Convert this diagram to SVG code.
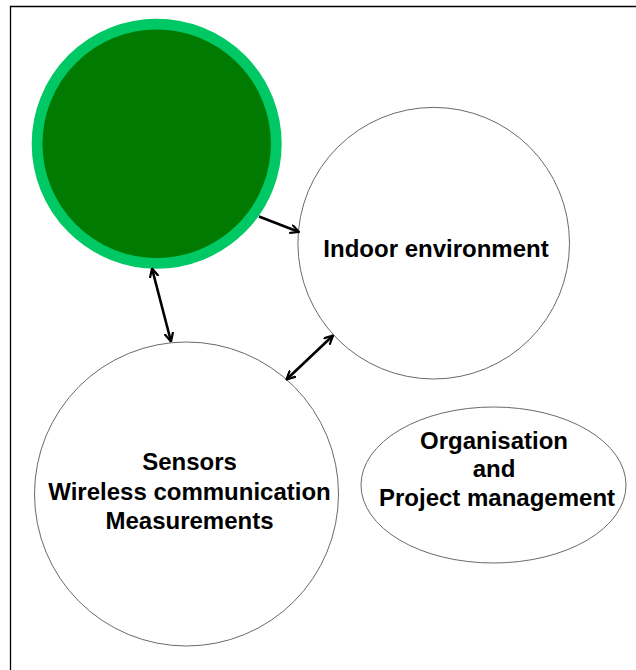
<svg xmlns="http://www.w3.org/2000/svg" width="636" height="670" viewBox="0 0 636 670">
  <style>
    .node { fill: #ffffff; stroke: #6a6a6a; stroke-width: 1; }
    .label { font-family: "Liberation Sans", Arial, sans-serif; font-weight: bold; font-size: 24px; fill: #000000; text-anchor: middle; }
    .conn { fill: none; stroke: #000000; stroke-width: 2.6; }
  </style>
  <defs>
    <marker id="head" viewBox="0 0 10 10" refX="9" refY="5" markerWidth="10" markerHeight="10" markerUnits="userSpaceOnUse" orient="auto-start-reverse">
      <path d="M1,1 L9,5 L1,9" fill="none" stroke="#000000" stroke-width="2.2" stroke-linecap="round" stroke-linejoin="round"/>
    </marker>
  </defs>

  <rect width="636" height="670" fill="#ffffff"/>
  <!-- outer frame: only top and left edges fall inside the page -->
  <path d="M10.5,670 L10.5,6.5 L636,6.5" fill="none" stroke="#000000" stroke-width="1.3"/>

  <g id="hub">
    <circle cx="156.7" cy="143.7" r="119.6" fill="#007a00" stroke="#00c864" stroke-width="10.8"/>
  </g>

  <g id="indoor-environment">
    <circle class="node" cx="433.7" cy="243.2" r="135.8"/>
    <text class="label" x="436" y="257">Indoor environment</text>
  </g>

  <g id="sensors">
    <circle class="node" cx="186.5" cy="494" r="152"/>
    <text class="label" x="189.5" y="470">Sensors</text>
    <text class="label" x="189.5" y="500">Wireless communication</text>
    <text class="label" x="189.5" y="529">Measurements</text>
  </g>

  <g id="organisation">
    <ellipse class="node" cx="493.5" cy="485" rx="132.5" ry="78"/>
    <text class="label" x="494" y="449">Organisation</text>
    <text class="label" x="494" y="477">and</text>
    <text class="label" x="497" y="506">Project management</text>
  </g>

  <g id="connectors">
    <line class="conn" x1="259" y1="216.5" x2="299" y2="232" marker-end="url(#head)"/>
    <line class="conn" x1="152" y1="268.5" x2="171" y2="341.5" marker-start="url(#head)" marker-end="url(#head)"/>
    <line class="conn" x1="333" y1="335.5" x2="286.5" y2="379.5" marker-start="url(#head)" marker-end="url(#head)"/>
  </g>
</svg>
